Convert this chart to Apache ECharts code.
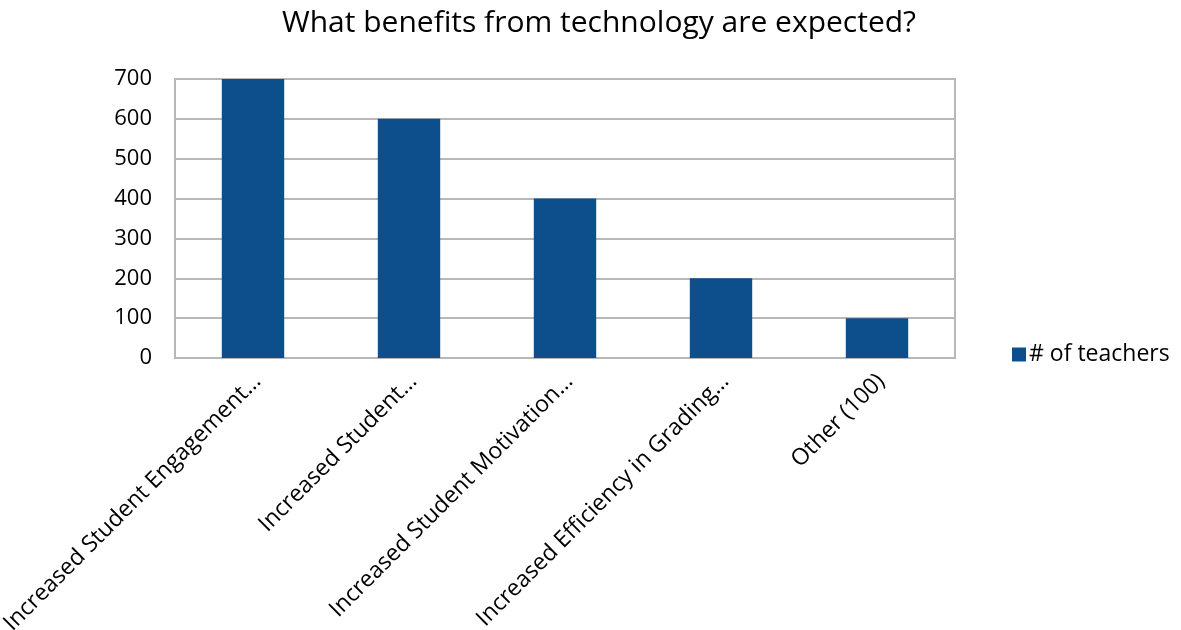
<!DOCTYPE html>
<html>
<head>
<meta charset="utf-8">
<script src="https://cdn.jsdelivr.net/npm/echarts@6/dist/echarts.min.js"></script>
<style>
  html, body { margin: 0; padding: 0; background: #fff; }
  #chart { width: 1181px; height: 630px; }
</style>
</head>
<body>
<div id="chart"></div>
<script>
const categories = [
  'Increased Student Engagement…',
  'Increased Student…',
  'Increased Student Motivation…',
  'Increased Efficiency in Grading…',
  'Other (100)'
]
const teachers = [700, 600, 400, 200, 100]
const yTicks = [0, 100, 200, 300, 400, 500, 600, 700]

const gridColor = '#b8b8b8'
const barColor = '#0d4e8d'
const font = 'Open Sans'

const chart = echarts.init(document.getElementById('chart'), null, { renderer: 'canvas' })

chart.setOption({
  animation: false,
  textStyle: { fontFamily: font },
  title: {
    text: 'What benefits from technology are expected?',
    left: 594,
    textAlign: 'center',
    top: 3,
    textStyle: { fontFamily: font, fontSize: 30, fontWeight: 'normal', color: '#000' }
  },
  legend: {
    data: ['# of teachers'],
    left: 1007,
    top: 338,
    itemWidth: 14,
    itemHeight: 14,
    itemGap: 0,
    icon: 'rect',
    textStyle: { fontFamily: font, fontSize: 23, color: '#000', padding: [0, 0, 0, -2] }
  },
  grid: {
    left: 175,
    right: 226,
    top: 79,
    height: 279,
    outerBoundsMode: 'none',
    containLabel: false,
    show: true,
    borderColor: gridColor,
    borderWidth: 2
  },
  xAxis: {
    type: 'category',
    data: categories,
    axisLine: { lineStyle: { color: gridColor, width: 2 } },
    axisTick: { show: false },
    axisLabel: {
      rotate: 45,
      interval: 0,
      margin: 24,
      padding: [0, -6, 0, 0],
      fontFamily: font,
      fontSize: 23,
      color: '#000'
    }
  },
  yAxis: {
    type: 'value',
    min: yTicks[0],
    max: yTicks[yTicks.length - 1],
    interval: 100,
    axisLine: { show: false },
    axisTick: { show: false },
    splitLine: { lineStyle: { color: gridColor, width: 2 } },
    axisLabel: { margin: 23, fontFamily: font, fontSize: 22, color: '#000' }
  },
  series: [
    {
      name: '# of teachers',
      type: 'bar',
      data: teachers,
      barWidth: '40%',
      itemStyle: { color: barColor }
    }
  ]
})
</script>
</body>
</html>
